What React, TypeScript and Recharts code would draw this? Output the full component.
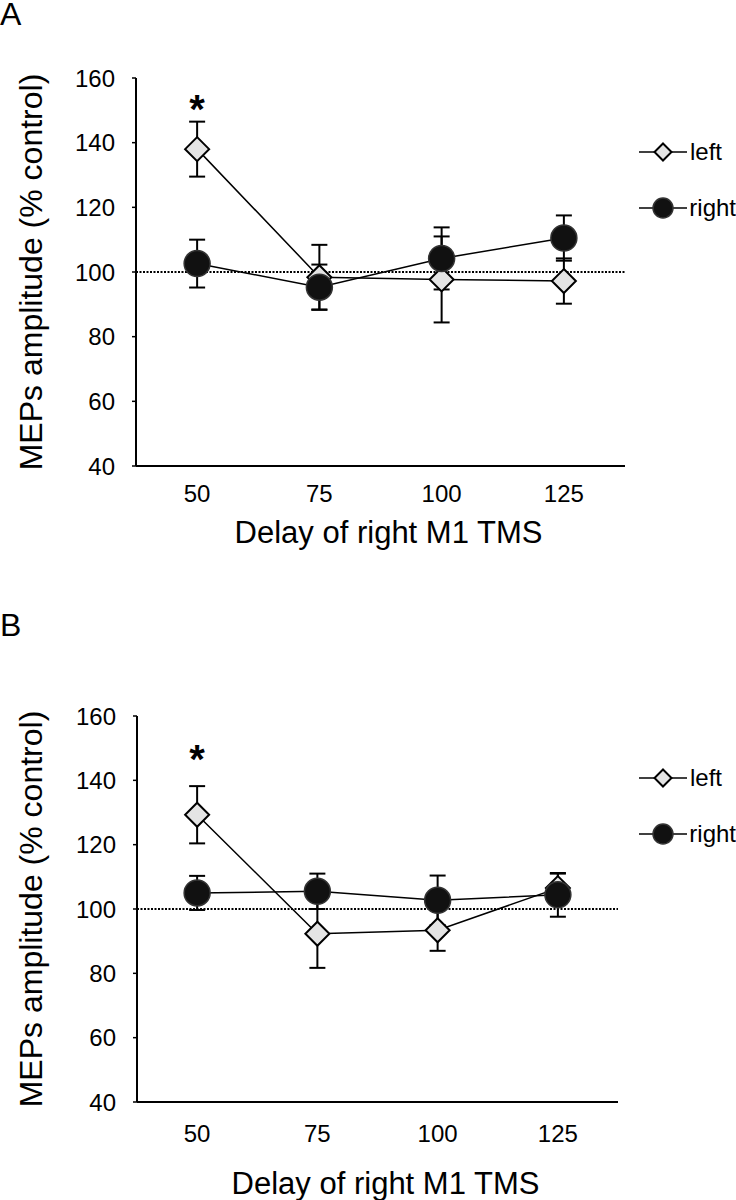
import React from "react";
import {
  LineChart,
  Line,
  XAxis,
  YAxis,
  ErrorBar,
  ReferenceLine,
  ReferenceDot,
  Legend,
} from "recharts";

const FONT = "'Liberation Sans', Arial, Helvetica, sans-serif";

const delays = [50, 75, 100, 125];
const bandEdges = [37.5, 62.5, 87.5, 112.5, 137.5];
const yTicks = [40, 60, 80, 100, 120, 140, 160];

// panel A
const leftA = [138, 98.4, 97.7, 97.2];
const leftAErr = [8.5, 10, 13.3, 7];
const rightA = [102.6, 95.3, 104.2, 110.5];
const rightAErr = [7.4, 7, 9.6, 7];

// panel B
const leftB = [129.3, 92.3, 93.4, 106.5];
const leftBErr = [8.9, 10.6, 6.4, 4.5];
const rightB = [105, 105.5, 102.7, 104.4];
const rightBErr = [5.3, 5.5, 7.7, 6.8];

const starA = { x: 50, y: 153 };
const starB = { x: 50, y: 149 };

const build = (l: number[], le: number[], r: number[], re: number[]) =>
  delays.map((d, i) => ({ delay: d, left: l[i], leftErr: le[i], right: r[i], rightErr: re[i] }));

const dataA = build(leftA, leftAErr, rightA, rightAErr);
const dataB = build(leftB, leftBErr, rightB, rightBErr);

const Diamond = ({ cx, cy, s }: { cx: number; cy: number; s: number }) => (
  <path
    d={`M${cx},${cy - s}L${cx + s},${cy}L${cx},${cy + s}L${cx - s},${cy}Z`}
    fill="#e4e4e4"
    stroke="#000"
    strokeWidth={2}
  />
);

const Dot = ({ cx, cy, r }: { cx: number; cy: number; r: number }) => (
  <circle cx={cx} cy={cy} r={r} fill="#111" stroke="#333" strokeWidth={1.5} />
);

const renderLegend = (props: any) => (
  <div style={{ fontFamily: FONT, fontSize: 24, color: "#000" }}>
    {(props.payload || []).map((p: any, i: number) => (
      <div
        key={p.value}
        style={{ display: "flex", alignItems: "center", height: 26, marginBottom: i === 0 ? 30 : 0 }}
      >
        <svg width={51} height={26} style={{ display: "block" }}>
          <line x1={0} x2={48} y1={13} y2={13} stroke="#000" strokeWidth={1.5} />
          {p.value === "left" ? <Diamond cx={24} cy={13} s={8.5} /> : <Dot cx={24} cy={13} r={10} />}
        </svg>
        <span style={{ lineHeight: "26px" }}>{p.value}</span>
      </div>
    ))}
  </div>
);

type PanelProps = {
  data: any[];
  height: number;
  marginTop: number;
  marginRight: number;
  marginBottom: number;
  yWidth: number;
  tickGap: number;
  labelAxisHeight: number;
  titleOffset: number;
  legendTop: number;
  star: { x: number; y: number };
};

function Panel(p: PanelProps) {
  return (
    <LineChart
      width={736}
      height={p.height}
      data={p.data}
      margin={{ top: p.marginTop, right: p.marginRight, left: 0, bottom: p.marginBottom }}
    >
      <YAxis
        type="number"
        domain={[40, 160]}
        ticks={yTicks}
        interval={0}
        width={p.yWidth}
        tickSize={4}
        tickMargin={17}
        axisLine={{ stroke: "#000", strokeWidth: 2 }}
        tickLine={{ stroke: "#000", strokeWidth: 1.5 }}
        tick={{ fontSize: 24, fill: "#000", fontFamily: FONT }}
        label={{
          content: (lp: any) => {
            const vb = lp.viewBox;
            const cx = 31;
            const cy = vb.y + vb.height / 2;
            return (
              <text
                x={cx}
                y={cy}
                transform={`rotate(-90 ${cx} ${cy})`}
                textAnchor="middle"
                dominantBaseline="central"
                fontSize={32}
                fontFamily={FONT}
                fill="#000"
              >
                MEPs amplitude (% control)
              </text>
            );
          },
        }}
      />
      <XAxis
        xAxisId="frame"
        type="number"
        domain={[37.5, 137.5]}
        ticks={bandEdges}
        interval={0}
        height={5}
        tickSize={5}
        tick={false}
        axisLine={{ stroke: "#000", strokeWidth: 2 }}
        tickLine={{ stroke: "#000", strokeWidth: 1.5 }}
      />
      <XAxis
        xAxisId="val"
        dataKey="delay"
        type="number"
        domain={[37.5, 137.5]}
        ticks={delays}
        interval={0}
        height={p.labelAxisHeight}
        tickSize={0}
        tickMargin={p.tickGap}
        axisLine={false}
        tickLine={false}
        tick={{ fontSize: 24, fill: "#000", fontFamily: FONT }}
        label={{
          content: (lp: any) => {
            const vb = lp.viewBox;
            return (
              <text
                x={vb.x + vb.width / 2 + 8}
                y={vb.y + p.titleOffset + 11}
                textAnchor="middle"
                fontSize={31}
                fontFamily={FONT}
                fill="#000"
              >
                Delay of right M1 TMS
              </text>
            );
          },
        }}
      />
      <ReferenceLine
        xAxisId="val"
        y={100}
        stroke="#000"
        strokeWidth={2}
        strokeDasharray="2 1.5"
      />
      <ReferenceDot
        xAxisId="val"
        x={p.star.x}
        y={p.star.y}
        r={0}
        fill="none"
        stroke="none"
        label={{
          content: (lp: any) => {
            const vb = lp.viewBox;
            return (
              <text
                x={vb.x + vb.width / 2}
                y={vb.y + vb.height / 2 + 22}
                textAnchor="middle"
                fontSize={40}
                fontWeight="bold"
                fontFamily={FONT}
                fill="#000"
              >
                *
              </text>
            );
          },
        }}
      />
      <Line
        xAxisId="val"
        dataKey="left"
        name="left"
        stroke="#000"
        strokeWidth={1.5}
        isAnimationActive={false}
        activeDot={false}
        dot={(dp: any) => <Diamond key={`l-${dp.index}`} cx={dp.cx} cy={dp.cy} s={12} />}
      >
        <ErrorBar dataKey="leftErr" direction="y" width={8} stroke="#000" strokeWidth={2} />
      </Line>
      <Line
        xAxisId="val"
        dataKey="right"
        name="right"
        stroke="#000"
        strokeWidth={1.5}
        isAnimationActive={false}
        activeDot={false}
        dot={(dp: any) => <Dot key={`r-${dp.index}`} cx={dp.cx} cy={dp.cy} r={13} />}
      >
        <ErrorBar dataKey="rightErr" direction="y" width={8} stroke="#000" strokeWidth={2} />
      </Line>
      <Legend
        layout="vertical"
        align="center"
        verticalAlign="middle"
        content={renderLegend}
        wrapperStyle={{ left: 639, top: p.legendTop, width: 97 }}
      />
    </LineChart>
  );
}

const letterStyle: React.CSSProperties = {
  position: "absolute",
  left: 0,
  fontFamily: FONT,
  fontSize: 32,
  lineHeight: "28px",
  color: "#000",
};

export default function App() {
  return (
    <div style={{ position: "absolute", left: 0, top: 0, width: 736, height: 1200, background: "#fff" }}>
      <div style={{ ...letterStyle, top: 0 }}>A</div>
      <div style={{ ...letterStyle, top: 611 }}>B</div>
      <div style={{ position: "absolute", left: 0, top: 0 }}>
        <Panel
          data={dataA}
          height={580}
          marginTop={78}
          marginRight={111}
          marginBottom={9}
          yWidth={136}
          tickGap={14}
          labelAxisHeight={100}
          titleOffset={61}
          legendTop={139}
          star={starA}
        />
      </div>
      <div style={{ position: "absolute", left: 0, top: 620 }}>
        <Panel
          data={dataB}
          height={580}
          marginTop={96}
          marginRight={118}
          marginBottom={3}
          yWidth={137}
          tickGap={18}
          labelAxisHeight={90}
          titleOffset={76}
          legendTop={145}
          star={starB}
        />
      </div>
    </div>
  );
}
